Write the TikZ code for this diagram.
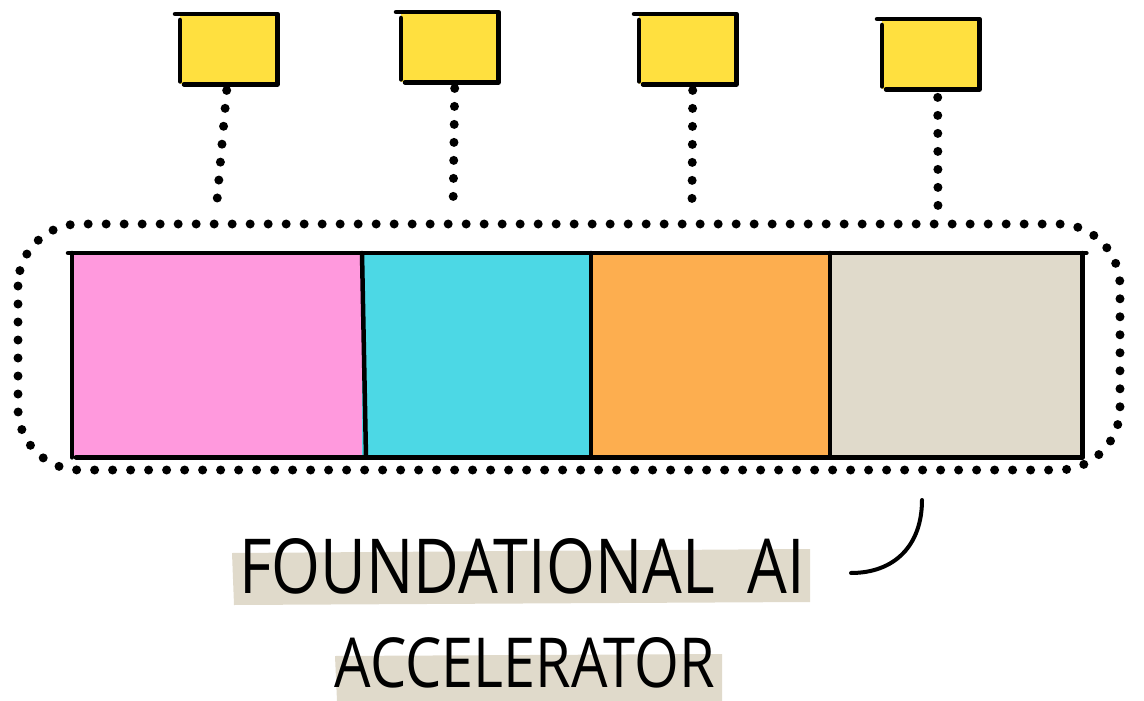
\documentclass[tikz,border=0pt]{standalone}
\usepackage{fontspec}
\setmainfont{Open Sans}
\definecolor{ybox}{HTML}{FFE03F}
\definecolor{cpink}{HTML}{FF99DD}
\definecolor{ccyan}{HTML}{4CD8E5}
\definecolor{corange}{HTML}{FDAE4F}
\definecolor{cbeige}{HTML}{E0DACB}
\begin{document}
\begin{tikzpicture}[x=1pt,y=-1pt,
  ink/.style={line width=4.5pt,line cap=round,line join=round,black},
  dots/.style={line width=9pt,line cap=round,dash pattern=on 0pt off 18pt,black},
  ybx/.style={fill=ybox,draw=none,minimum width=97pt,minimum height=70pt,inner sep=0pt},
  seg/.style={draw=none,inner sep=0pt,minimum height=204pt},
  hl/.style={fill=cbeige,draw=none,inner sep=0pt}
]
\useasboundingbox (0,0) rectangle (1144,701);
% yellow boxes
\node[ybx,anchor=north west] (y1) at (180,14) {};
\node[ybx,anchor=north west] (y2) at (401,12) {};
\node[ybx,anchor=north west] (y3) at (639,14) {};
\node[ybx,anchor=north west] (y4) at (882,19) {};
\foreach \n in {y1,y2,y3,y4}{
  \draw[ink] ([xshift=-5pt]\n.north west) -- (\n.north east) -- (\n.south east) -- ([xshift=4pt]\n.south west);
  \draw[ink] ([yshift=-6pt]\n.north west) -- ([yshift=3pt]\n.south west);
}
% bar segments
\node[seg,fill=cpink,anchor=north west,minimum width=292pt] (s1) at (72,253) {};
\node[seg,fill=ccyan,anchor=north west,minimum width=230pt] (s2) at (362,253) {};
\node[seg,fill=corange,anchor=north west,minimum width=240pt] (s3) at (591,253) {};
\node[seg,fill=cbeige,anchor=north west,minimum width=252pt] (s4) at (830,253) {};
\draw[ink] ([xshift=-4pt]s1.north west) -- ([xshift=4pt]s4.north east);
\draw[ink] ([xshift=4pt]s1.south west) -- (s4.south east);
\draw[ink] (s1.north west) -- (s1.south west);
\draw[ink] (s4.north east) -- (s4.south east);
\draw[ink] (s2.north west) -- ([xshift=4pt]s2.south west);
\draw[ink] (s3.north west) -- (s3.south west);
\draw[ink] (s4.north west) -- (s4.south west);
% dotted outline
\coordinate (o1) at (18,224);
\coordinate (o2) at (1120,470);
\draw[dots,rounded corners=62pt] (o1) rectangle (o2);
% dotted connectors
\coordinate (c1) at (217,201);
\coordinate (c2) at (453,213);
\coordinate (c3) at (692,201);
\coordinate (c4) at (938,211);
\draw[dots] ([xshift=-2pt,yshift=-6pt]y1.south) -- (c1);
\draw[dots] ([xshift=5pt,yshift=-6pt]y2.south) -- (c2);
\draw[dots] ([xshift=5pt,yshift=-6pt]y3.south) -- (c3);
\draw[dots] ([xshift=7pt,yshift=-8pt]y4.south) -- (c4);
% label highlights
\fill[cbeige] (232,553) -- (810,549) -- (810,602) -- (234,605) -- cycle;
\fill[cbeige] (335,656) -- (722,654) -- (722,701) -- (337,701) -- cycle;
\node[anchor=south,inner sep=0pt] (t1) at (522,594) {\resizebox{565pt}{55pt}{FOUNDATIONAL\ \ AI}};
\node[anchor=south,inner sep=0pt] (t2) at (525,688) {\resizebox{380pt}{50pt}{ACCELERATOR}};
% curve
\coordinate (k1) at (922,500);
\coordinate (k2) at (851,573);
\draw[ink,line width=4pt] (k1) .. controls (922,545) and (895,573) .. (k2);
\end{tikzpicture}
\end{document}
